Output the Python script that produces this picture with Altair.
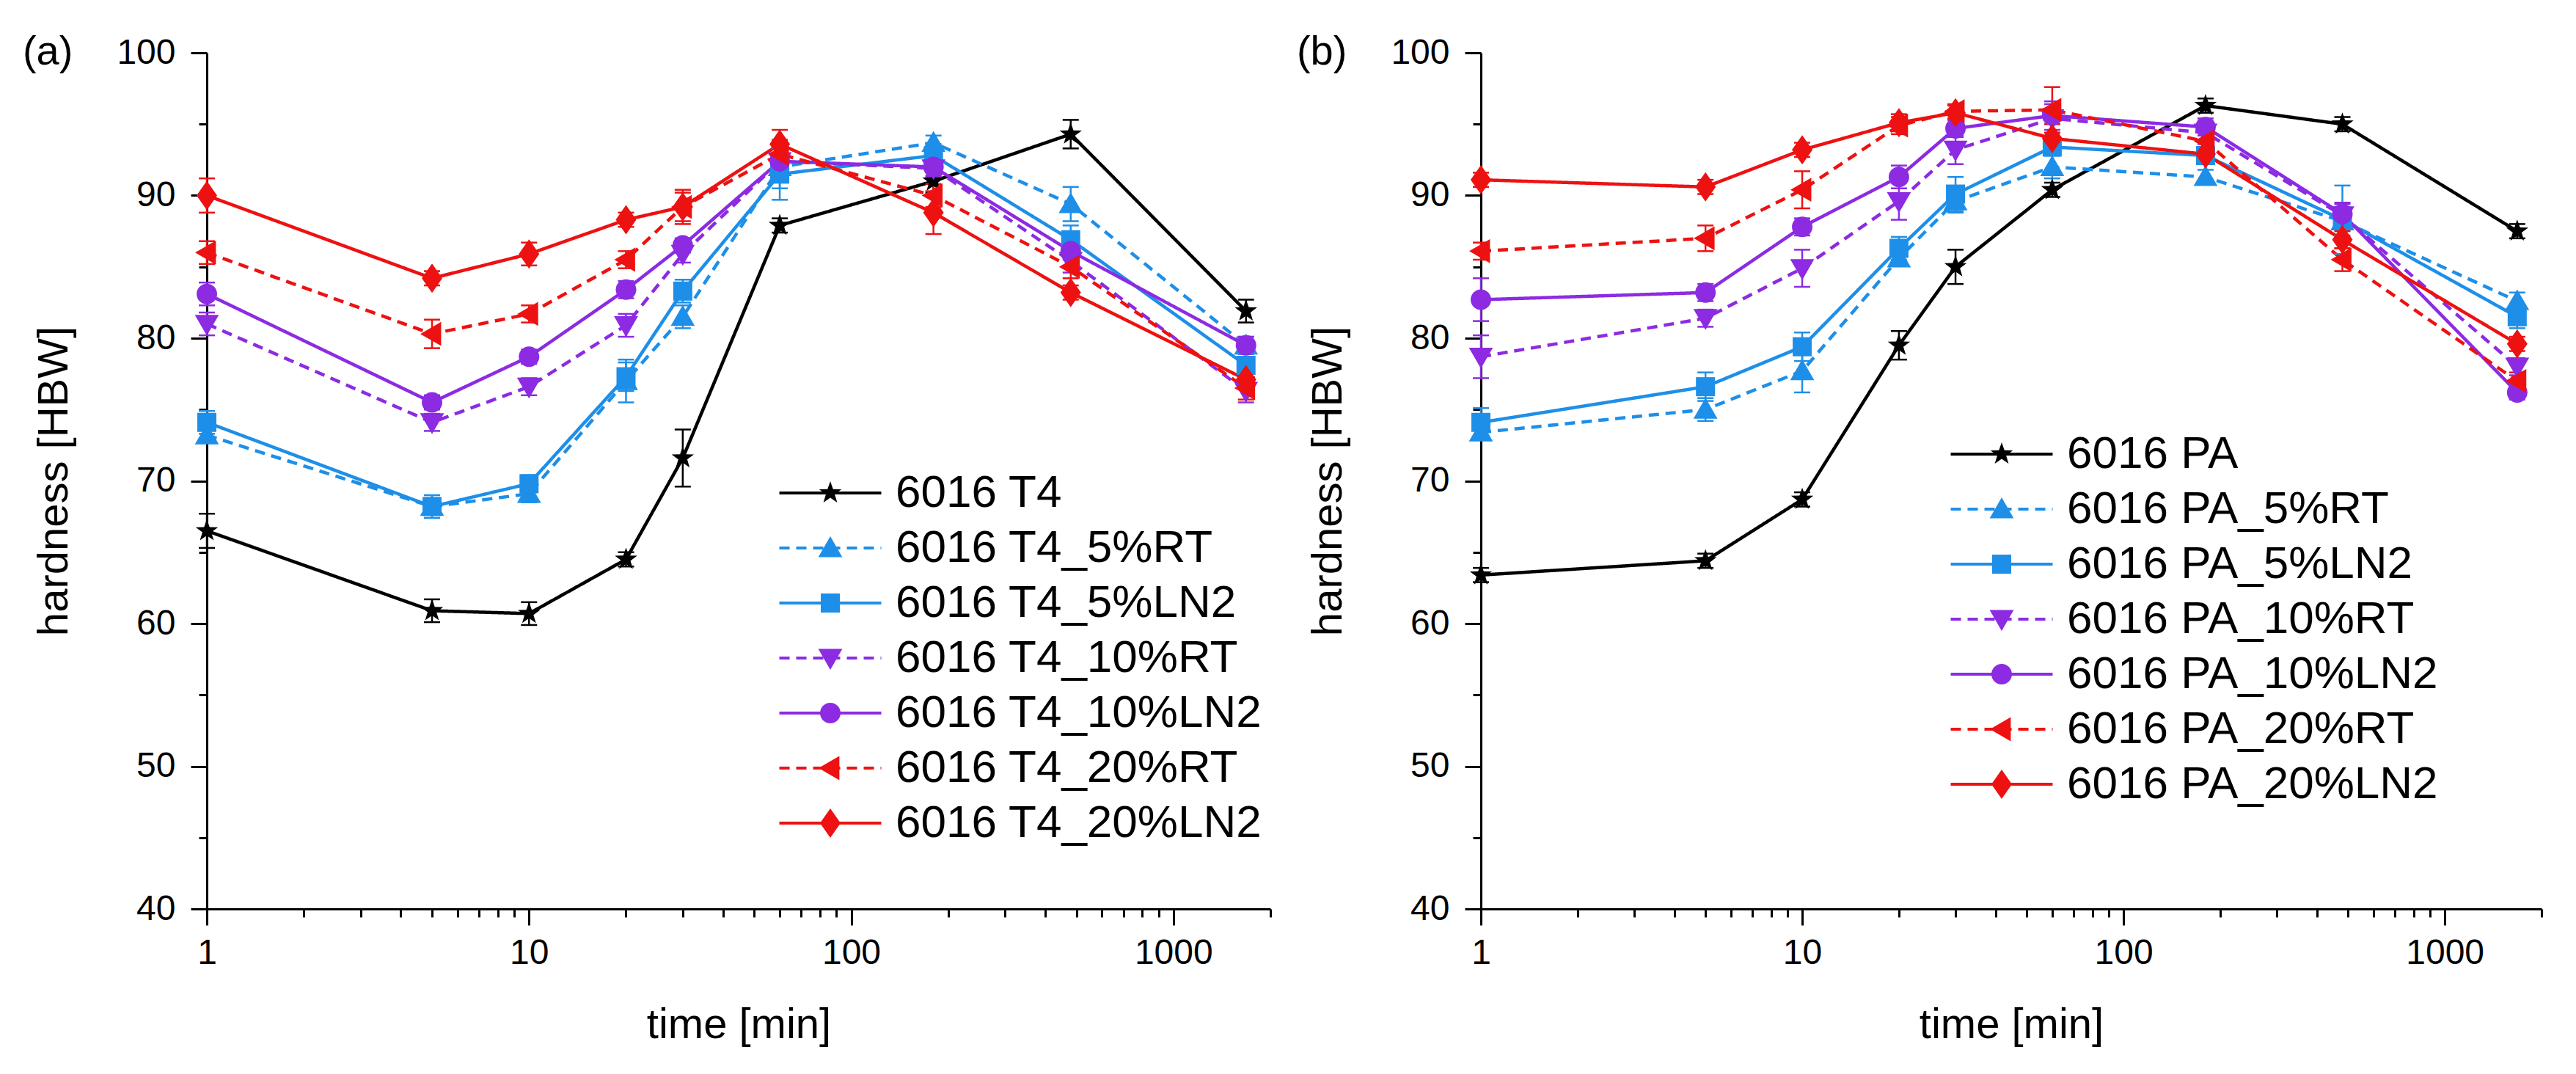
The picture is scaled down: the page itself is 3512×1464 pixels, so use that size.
import altair as alt
import pandas as pd

# ---------------- data ----------------
TIMES = [1, 5, 10, 20, 30, 60, 180, 480, 1680]

NAMES_A = ["6016 T4", "6016 T4_5%RT", "6016 T4_5%LN2", "6016 T4_10%RT",
           "6016 T4_10%LN2", "6016 T4_20%RT", "6016 T4_20%LN2"]
NAMES_B = ["6016 PA", "6016 PA_5%RT", "6016 PA_5%LN2", "6016 PA_10%RT",
           "6016 PA_10%LN2", "6016 PA_20%RT", "6016 PA_20%LN2"]

# panel (a) hardness values
a_t4 = [66.5, 60.9, 60.7, 64.5, 71.6, 87.9, 91.0, 94.3, 81.9]
a_5rt = [73.2, 68.2, 69.1, 77.0, 81.5, 92.0, 93.7, 89.4, 79.5]
a_5ln2 = [74.1, 68.2, 69.8, 77.3, 83.3, 91.5, 92.8, 86.9, 78.1]
a_10rt = [81.0, 74.1, 76.6, 80.9, 85.9, 92.4, 91.9, 85.4, 76.3]
a_10ln2 = [83.1, 75.5, 78.7, 83.4, 86.5, 92.4, 92.0, 86.1, 79.5]
a_20rt = [86.0, 80.3, 81.7, 85.5, 89.2, 92.9, 90.0, 85.0, 76.5]
a_20ln2 = [90.0, 84.2, 85.9, 88.3, 89.2, 93.6, 88.8, 83.2, 77.1]

# panel (a) error bars (half-width)
e_a_t4 = [1.2, 0.8, 0.8, 0.5, 2.0, 0.5, 0.8, 1.0, 0.8]
e_a_5rt = [0.5, 0.6, 0.6, 1.5, 0.8, 1.5, 0.5, 1.2, 0.6]
e_a_5ln2 = [0.8, 0.8, 0.6, 1.0, 0.8, 1.8, 0.8, 1.0, 0.6]
e_a_10rt = [0.8, 0.6, 0.6, 0.8, 0.6, 0.6, 0.6, 0.8, 0.8]
e_a_10ln2 = [0.8, 0.5, 0.5, 0.6, 0.5, 0.6, 0.6, 0.6, 0.6]
e_a_20rt = [0.8, 1.0, 0.6, 0.6, 1.2, 1.0, 0.8, 0.8, 0.8]
e_a_20ln2 = [1.2, 0.5, 0.8, 0.5, 1.0, 1.0, 1.5, 0.5, 0.6]

# panel (b) hardness values
b_pa = [63.4, 64.4, 68.7, 79.5, 85.0, 90.4, 96.3, 95.0, 87.5]
b_5rt = [73.4, 75.0, 77.7, 85.6, 89.6, 92.0, 91.3, 88.2, 82.6]
b_5ln2 = [74.1, 76.6, 79.4, 86.3, 90.1, 93.4, 92.8, 88.3, 81.5]
b_10rt = [78.7, 81.4, 84.9, 89.6, 93.2, 95.4, 94.4, 88.6, 78.0]
b_10ln2 = [82.7, 83.2, 87.8, 91.3, 94.7, 95.6, 94.8, 88.7, 76.2]
b_20rt = [86.1, 87.0, 90.4, 94.9, 95.9, 96.0, 93.8, 85.5, 77.0]
b_20ln2 = [91.1, 90.6, 93.2, 95.1, 95.8, 94.0, 92.9, 86.9, 79.6]

# panel (b) error bars (half-width)
e_b_pa = [0.5, 0.5, 0.5, 1.0, 1.2, 0.5, 0.5, 0.5, 0.5]
e_b_5rt = [0.5, 0.8, 1.5, 0.5, 0.8, 0.8, 0.5, 1.0, 0.6]
e_b_5ln2 = [1.0, 1.0, 1.0, 0.8, 1.2, 0.6, 0.6, 2.4, 0.8]
e_b_10rt = [1.5, 0.6, 1.3, 1.3, 1.0, 1.0, 0.8, 0.8, 0.6]
e_b_10ln2 = [1.5, 0.6, 0.6, 0.8, 0.6, 1.0, 0.6, 0.8, 0.5]
e_b_20rt = [0.6, 0.9, 1.3, 0.6, 0.5, 1.6, 0.6, 0.8, 0.6]
e_b_20ln2 = [0.5, 0.5, 0.5, 0.6, 0.5, 1.0, 0.5, 0.6, 0.5]

X_MAJOR = [1, 10, 100, 1000]
X_MINOR = [2, 3, 4, 5, 6, 7, 8, 9, 20, 30, 40, 50, 60, 70, 80, 90,
           200, 300, 400, 500, 600, 700, 800, 900, 2000]
Y_MAJOR = [40, 50, 60, 70, 80, 90, 100]
Y_MINOR = [45, 55, 65, 75, 85, 95]

# ---------------- styles ----------------
FONT = "Liberation Sans"
COLORS = ["#000000", "#1E8FE8", "#1E8FE8", "#8C2BE2", "#8C2BE2", "#EE1111", "#EE1111"]
SOLID = [1, 0]
DASH = [14, 9]
DASHES = [SOLID, DASH, SOLID, DASH, SOLID, DASH, SOLID]
STAR = ("M0,-0.8L0.188,-0.259L0.761,-0.247L0.304,0.099L0.47,0.647L0,0.32"
        "L-0.47,0.647L-0.304,0.099L-0.761,-0.247L-0.188,-0.259Z")
TRI_UP = "M0,-0.8L0.82,0.62L-0.82,0.62Z"
SQUARE = "M-0.65,-0.65L0.65,-0.65L0.65,0.65L-0.65,0.65Z"
TRI_DOWN = "M0,0.8L0.82,-0.62L-0.82,-0.62Z"
CIRCLE = "M-0.7,0A0.7,0.7,0,1,1,0.7,0A0.7,0.7,0,1,1,-0.7,0Z"
TRI_LEFT = "M-0.8,0L0.62,-0.82L0.62,0.82Z"
DIAMOND = "M0,-1L0.7,0L0,1L-0.7,0Z"
SHAPES = [STAR, TRI_UP, SQUARE, TRI_DOWN, CIRCLE, TRI_LEFT, DIAMOND]
MARKER_SIZE = 1600
LINE_W = 4.5

# legend line sample: a long segment drawn inside a small nominal symbol box
LEG_LINE_SIZE = 1296                     # nominal box 36 px (+4 stroke = 40, same as markers)
LEG_LINE_PATH = "M-3.86,0H3.86"          # 3.86 * 18 px ~ 69.5 px half-length
LEG_FONT = 62
LEG_ROW_PAD = 13
LEG_SYMBOL_OFFSET = 50
LEG_LABEL_OFFSET = 58


def make_panel(label, names, values, errors, legend_x, legend_y, w, h):
    mk_names = [n + " " for n in names]
    rows = []
    for name, mk, vals, errs in zip(names, mk_names, values, errors):
        for t, v, e in zip(TIMES, vals, errs):
            rows.append(dict(series=name, mk=mk, t=t, v=v,
                             lo=round(v - e, 2), hi=round(v + e, 2)))
    df = pd.DataFrame(rows)

    xs = alt.Scale(type="log", domain=[1, 2000], nice=False)
    ys = alt.Scale(domain=[40, 100], nice=False, zero=False)
    stroke_scale = alt.Scale(domain=names, range=COLORS)
    dash_scale = alt.Scale(domain=names, range=DASHES)
    fill_scale = alt.Scale(domain=mk_names, range=COLORS)
    shape_scale = alt.Scale(domain=mk_names, range=SHAPES)

    common = dict(domainColor="black", domainWidth=3, tickColor="black", tickWidth=3,
                  grid=False, labelFont=FONT, labelColor="black", labelFontSize=48,
                  titleFont=FONT, titleFontSize=58, titleFontWeight="normal",
                  titleColor="black", labelFlush=False, labelOverlap=False)
    x_major = alt.Axis(orient="bottom", values=X_MAJOR, format="d", title="time [min]",
                       tickSize=22, labelPadding=14, titlePadding=45, **common)
    y_major = alt.Axis(orient="left", values=Y_MAJOR, title="hardness [HBW]",
                       tickSize=22, labelPadding=21, titlePadding=55, **common)
    x_minor = alt.Axis(orient="bottom", values=X_MINOR, labels=False, domain=False,
                       tickSize=11, tickWidth=3, tickColor="black", grid=False, title=None)
    y_minor = alt.Axis(orient="left", values=Y_MINOR, labels=False, domain=False,
                       tickSize=11, tickWidth=3, tickColor="black", grid=False, title=None)

    line_legend = alt.Legend(orient="none", legendX=legend_x, legendY=legend_y, title=None,
                             symbolType=LEG_LINE_PATH, symbolSize=LEG_LINE_SIZE,
                             symbolStrokeWidth=4, symbolOffset=LEG_SYMBOL_OFFSET,
                             labelFont=FONT, labelFontSize=LEG_FONT,
                             labelColor="black", labelOffset=LEG_LABEL_OFFSET,
                             rowPadding=LEG_ROW_PAD, padding=0, columns=1, labelLimit=2000)
    marker_legend = alt.Legend(orient="none", legendX=legend_x, legendY=legend_y, title=None,
                               symbolSize=MARKER_SIZE, symbolStrokeWidth=0,
                               symbolOffset=LEG_SYMBOL_OFFSET, labelFont=FONT,
                               labelFontSize=LEG_FONT, labelOpacity=0,
                               labelOffset=LEG_LABEL_OFFSET,
                               rowPadding=LEG_ROW_PAD, padding=0, columns=1, labelLimit=2000)

    base = alt.Chart(df)
    rules = base.mark_rule(strokeWidth=2.5).encode(
        x=alt.X("t:Q", scale=xs, axis=x_minor),
        y=alt.Y("lo:Q", scale=ys, axis=y_minor),
        y2="hi:Q",
        stroke=alt.Stroke("series:N", scale=stroke_scale, legend=line_legend),
    )
    cap_lo = base.mark_point(shape="stroke", size=484, strokeWidth=2.5, opacity=1,
                             filled=False).encode(
        x=alt.X("t:Q", scale=xs, axis=None),
        y=alt.Y("lo:Q", scale=ys, axis=None),
        stroke=alt.Stroke("series:N", scale=stroke_scale, legend=line_legend),
    )
    cap_hi = base.mark_point(shape="stroke", size=484, strokeWidth=2.5, opacity=1,
                             filled=False).encode(
        x=alt.X("t:Q", scale=xs, axis=None),
        y=alt.Y("hi:Q", scale=ys, axis=None),
        stroke=alt.Stroke("series:N", scale=stroke_scale, legend=line_legend),
    )
    lines = base.mark_line(strokeWidth=LINE_W).encode(
        x=alt.X("t:Q", scale=xs, axis=x_major),
        y=alt.Y("v:Q", scale=ys, axis=y_major),
        stroke=alt.Stroke("series:N", scale=stroke_scale, legend=line_legend),
        strokeDash=alt.StrokeDash("series:N", scale=dash_scale, legend=line_legend),
    )
    points = base.mark_point(filled=True, size=MARKER_SIZE, opacity=1, strokeWidth=0).encode(
        x=alt.X("t:Q", scale=xs, axis=None),
        y=alt.Y("v:Q", scale=ys, axis=None),
        fill=alt.Fill("mk:N", scale=fill_scale, legend=marker_legend),
        shape=alt.Shape("mk:N", scale=shape_scale, legend=marker_legend),
    )
    return alt.layer(lines, rules, cap_lo, cap_hi, points).resolve_axis(
        x="independent", y="independent"
    ).properties(
        width=w, height=h,
        title=alt.TitleParams(text=label, anchor="start", frame="bounds", orient="top",
                              font=FONT, fontSize=56, fontWeight="normal", color="black",
                              dx=-15, dy=52, offset=0),
    )


panel_a = make_panel("(a)", NAMES_A,
                     [a_t4, a_5rt, a_5ln2, a_10rt, a_10ln2, a_20rt, a_20ln2],
                     [e_a_t4, e_a_5rt, e_a_5ln2, e_a_10rt, e_a_10ln2, e_a_20rt, e_a_20ln2],
                     769, 569, 1450, 1167)
panel_b = make_panel("(b)", NAMES_B,
                     [b_pa, b_5rt, b_5ln2, b_10rt, b_10ln2, b_20rt, b_20ln2],
                     [e_b_pa, e_b_5rt, e_b_5ln2, e_b_10rt, e_b_10ln2, e_b_20rt, e_b_20ln2],
                     629, 516, 1446, 1167)

chart = alt.hconcat(panel_a, panel_b, spacing=33).resolve_scale(
    stroke="independent", strokeDash="independent", fill="independent", shape="independent"
).configure_view(stroke=None).properties(
    padding={"left": 30, "top": 43, "right": 20, "bottom": 10},
    background="white",
)

chart.save("out.html", embed_options={"renderer": "svg", "actions": False})
